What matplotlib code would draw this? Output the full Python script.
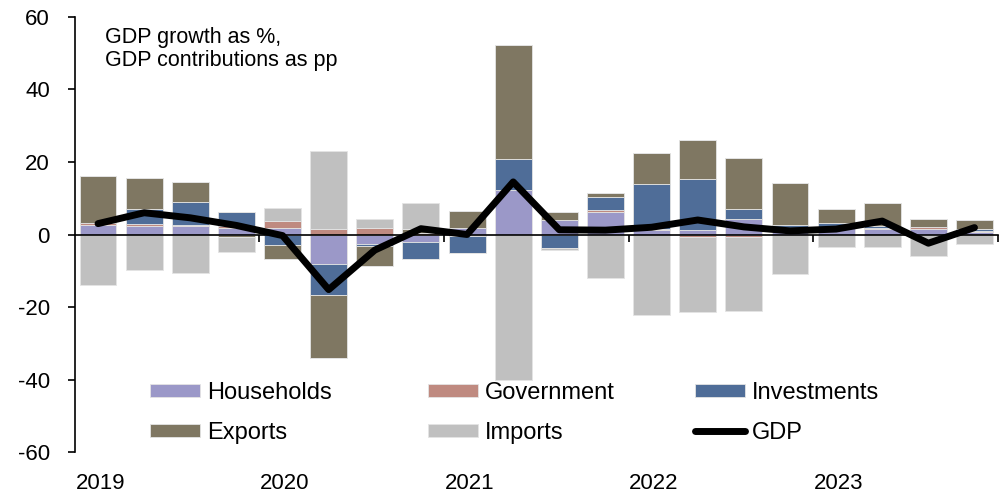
import numpy as np
import matplotlib
matplotlib.use("Agg")
import matplotlib.pyplot as plt
import matplotlib.transforms as mtransforms

plt.rcParams['font.family'] = ['Liberation Sans', 'DejaVu Sans']
plt.rcParams['axes.unicode_minus'] = False

# quarterly contributions, 2019Q1 .. 2023Q4
years = ['2019', '2020', '2021', '2022', '2023']
households = [2.6, 2.4, 2.4, 1.8, 1.9, -8.2, -2.7, -2.0, 1.8, 12.4,
              3.9, 6.3, 1.2, 1.2, 4.2, 1.5, 1.8, 1.4, 1.6, 0.7]
government = [0.5, 0.5, 0.3, 0.6, 1.7, 1.5, 1.75, 0.4, -0.5, 0.0,
              0.0, 0.35, 0.2, -0.6, -0.6, 0.3, 0.2, 0.5, 0.4, 0.3]
investments = [0.0, 4.0, 6.4, 3.9, -2.9, -8.6, -0.55, -4.7, -4.6, 8.5,
               -3.7, 3.8, 12.6, 14.1, 2.7, 0.8, 1.1, 0.5, 0.0, 0.6]
exports = [12.9, 8.8, 5.5, -0.8, -3.9, -17.3, -5.4, 1.0, 4.8, 31.3,
           2.4, 0.9, 8.6, 10.9, 14.3, 11.5, 3.8, 6.3, 2.4, 2.3]
imports = [-14.0, -9.8, -10.6, -4.0, 3.7, 21.6, 2.6, 7.4, 0.0, -40.0,
           -0.7, -12.0, -22.3, -20.9, -20.5, -10.9, -3.4, -3.4, -6.0, -2.5]
gdp = [3.0, 6.0, 4.6, 2.5, -0.3, -15.2, -4.3, 1.6, 0.0, 14.5,
       1.3, 1.2, 2.0, 4.0, 2.1, 1.0, 1.5, 3.7, -2.4, 1.9]

series = [('Households', households, '#9b98c8'),
          ('Government', government, '#bf8a80'),
          ('Investments', investments, '#4f6d98'),
          ('Exports', exports, '#7f7762'),
          ('Imports', imports, '#c0c0c0')]

fig = plt.figure(figsize=(10.05, 4.94), dpi=100)
ax = fig.add_axes([0.0746, 0.085, 0.918, 0.8806])

x = np.arange(len(gdp))
pos_base = np.zeros(len(x))
neg_base = np.zeros(len(x))
handles = []
for name, vals, col in series:
    v = np.array(vals)
    p = np.where(v > 0, v, 0)
    n = np.where(v < 0, v, 0)
    h = ax.bar(x, p, 0.8, bottom=pos_base, color=col, edgecolor='#e4e4e4',
               linewidth=0.6, label=name, zorder=2)
    ax.bar(x, n, 0.8, bottom=neg_base, color=col, edgecolor='#e4e4e4',
           linewidth=0.6, zorder=2)
    pos_base += p
    neg_base += n
    handles.append(h)

line, = ax.plot(x, gdp, color='black', linewidth=5, solid_capstyle='round',
                label='GDP', zorder=4)

ax.set_xlim(-0.5, len(x) - 0.5)
ax.set_ylim(-60, 60)
ax.set_yticks(range(-60, 61, 20))
ax.tick_params(axis='y', labelsize=16, direction='out', length=5, width=1.2,
               pad=13)

ax.spines['top'].set_visible(False)
ax.spines['right'].set_visible(False)
ax.spines['left'].set_linewidth(1.2)
ax.spines['bottom'].set_position(('data', 0))
ax.spines['bottom'].set_linewidth(1.2)
ax.spines['bottom'].set_zorder(3)
ax.set_xticks([3.5, 7.5, 11.5, 15.5, 19.5])
ax.set_xticklabels([])
ax.tick_params(axis='x', direction='out', length=5, width=1.2)

trans = mtransforms.blended_transform_factory(ax.transData, ax.transAxes)
for i, yr in enumerate(years):
    ax.text(i * 4 + 0.05, -0.072, yr, transform=trans, ha='center', va='center',
            fontsize=16)

fig.text(105 / 1005, 1 - 27 / 494, 'GDP growth as %,\nGDP contributions as pp',
         ha='left', va='top', fontsize=15.5, linespacing=1.1)

# one legend per column so each column sits where the original has it
columns = [([handles[0], handles[3]], 150),
           ([handles[1], handles[4]], 428),
           ([handles[2], line], 695)]
for k, (hs, xpix) in enumerate(columns):
    leg = ax.legend(handles=hs, frameon=False, fontsize=17,
                    loc='upper left', bbox_to_anchor=(xpix / 1005, 1 - 382 / 494),
                    bbox_transform=fig.transFigure, borderpad=0, borderaxespad=0,
                    handlelength=2.1, handleheight=0.5, handletextpad=0.3,
                    labelspacing=0.75)
    if k < len(columns) - 1:
        ax.add_artist(leg)

fig.savefig('out.png', dpi=100)
